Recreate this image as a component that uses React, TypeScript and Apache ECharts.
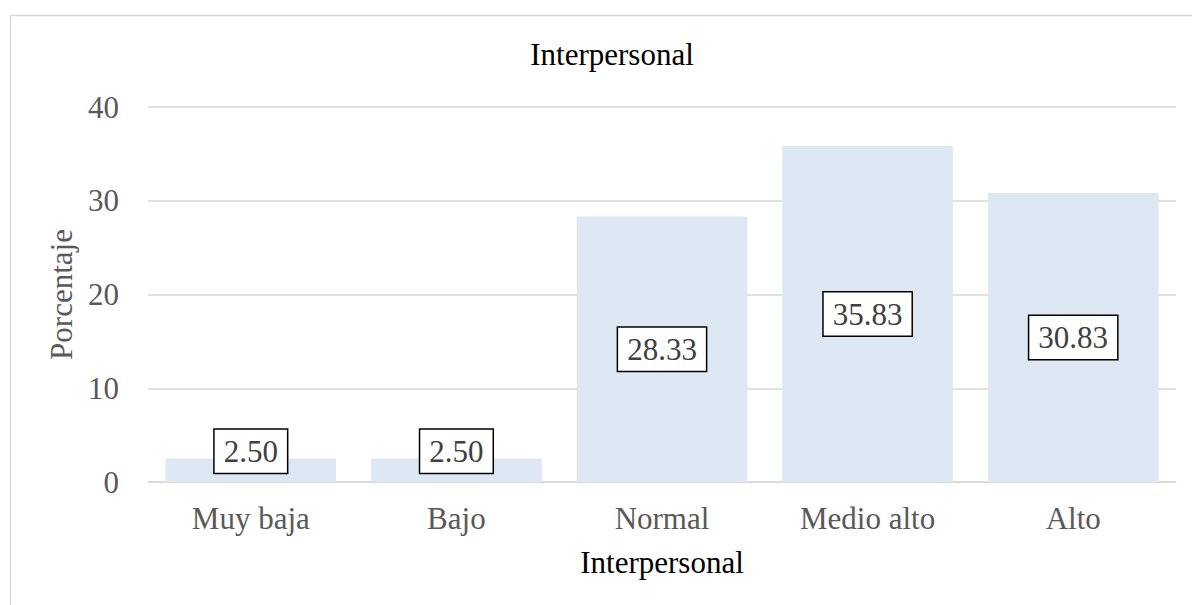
import React, { useEffect, useRef } from "react";
import * as echarts from "echarts";

const titleText = "Interpersonal";
const categories = ["Muy baja", "Bajo", "Normal", "Medio alto", "Alto"];
const percentages = [2.5, 2.5, 28.33, 35.83, 30.83];
const yTicks = { min: 0, max: 40, interval: 10 };
const xAxisName = "Interpersonal";
const yAxisName = "Porcentaje";

const FONT = "'Liberation Serif', 'Times New Roman', serif";

export default function App() {
  const ref = useRef<HTMLDivElement>(null);
  useEffect(() => {
    if (!ref.current) return;
    const chart = echarts.init(ref.current, undefined, { renderer: "svg" });
    const data = percentages.map((v) =>
      v < 5 ? { value: v, label: { offset: [0, -19] } } : { value: v }
    );
    chart.setOption({
      animation: false,
      backgroundColor: "#fff",
      textStyle: { fontFamily: FONT },
      title: {
        text: titleText,
        left: 607,
        top: 34,
        textAlign: "center",
        textStyle: { fontFamily: FONT, fontSize: 31, fontWeight: "normal", color: "#000" },
      },
      graphic: [
        {
          type: "rect",
          shape: { x: 10.5, y: 15.5, width: 1200, height: 620 },
          style: { fill: "none", stroke: "#d9d9d9", lineWidth: 1.3 },
          silent: true,
        },
      ],
      grid: { left: 148, right: 16, top: 107, bottom: 123, containLabel: false },
      xAxis: {
        type: "category",
        data: categories,
        name: xAxisName,
        nameLocation: "middle",
        nameGap: 65,
        nameTextStyle: { fontFamily: FONT, fontSize: 31, color: "#000" },
        axisTick: { show: false },
        axisLine: { lineStyle: { color: "#d9d9d9", width: 1.5 } },
        axisLabel: { fontFamily: FONT, fontSize: 31, color: "#595959", margin: 21 },
      },
      yAxis: {
        type: "value",
        min: yTicks.min,
        max: yTicks.max,
        interval: yTicks.interval,
        name: yAxisName,
        nameLocation: "middle",
        nameGap: 61,
        nameTextStyle: { fontFamily: FONT, fontSize: 31, color: "#595959" },
        axisLine: { show: false },
        axisTick: { show: false },
        axisLabel: { fontFamily: FONT, fontSize: 31, color: "#595959", margin: 29 },
        splitLine: { lineStyle: { color: "#d9d9d9", width: 1.5 } },
      },
      series: [
        {
          type: "bar",
          data,
          barCategoryGap: "17%",
          itemStyle: { color: "#DEE8F4" },
          label: {
            show: true,
            position: "inside",
            formatter: (p: any) => Number(p.value).toFixed(2),
            fontFamily: FONT,
            fontSize: 31,
            color: "#404040",
            backgroundColor: "#fff",
            borderColor: "#000",
            borderWidth: 1.5,
            padding: [6, 9, 6, 9],
          },
        },
      ],
    });
    return () => chart.dispose();
  }, []);
  return (
    <div
      ref={ref}
      style={{ position: "fixed", left: 0, top: 0, width: 1192, height: 605 }}
    />
  );
}
